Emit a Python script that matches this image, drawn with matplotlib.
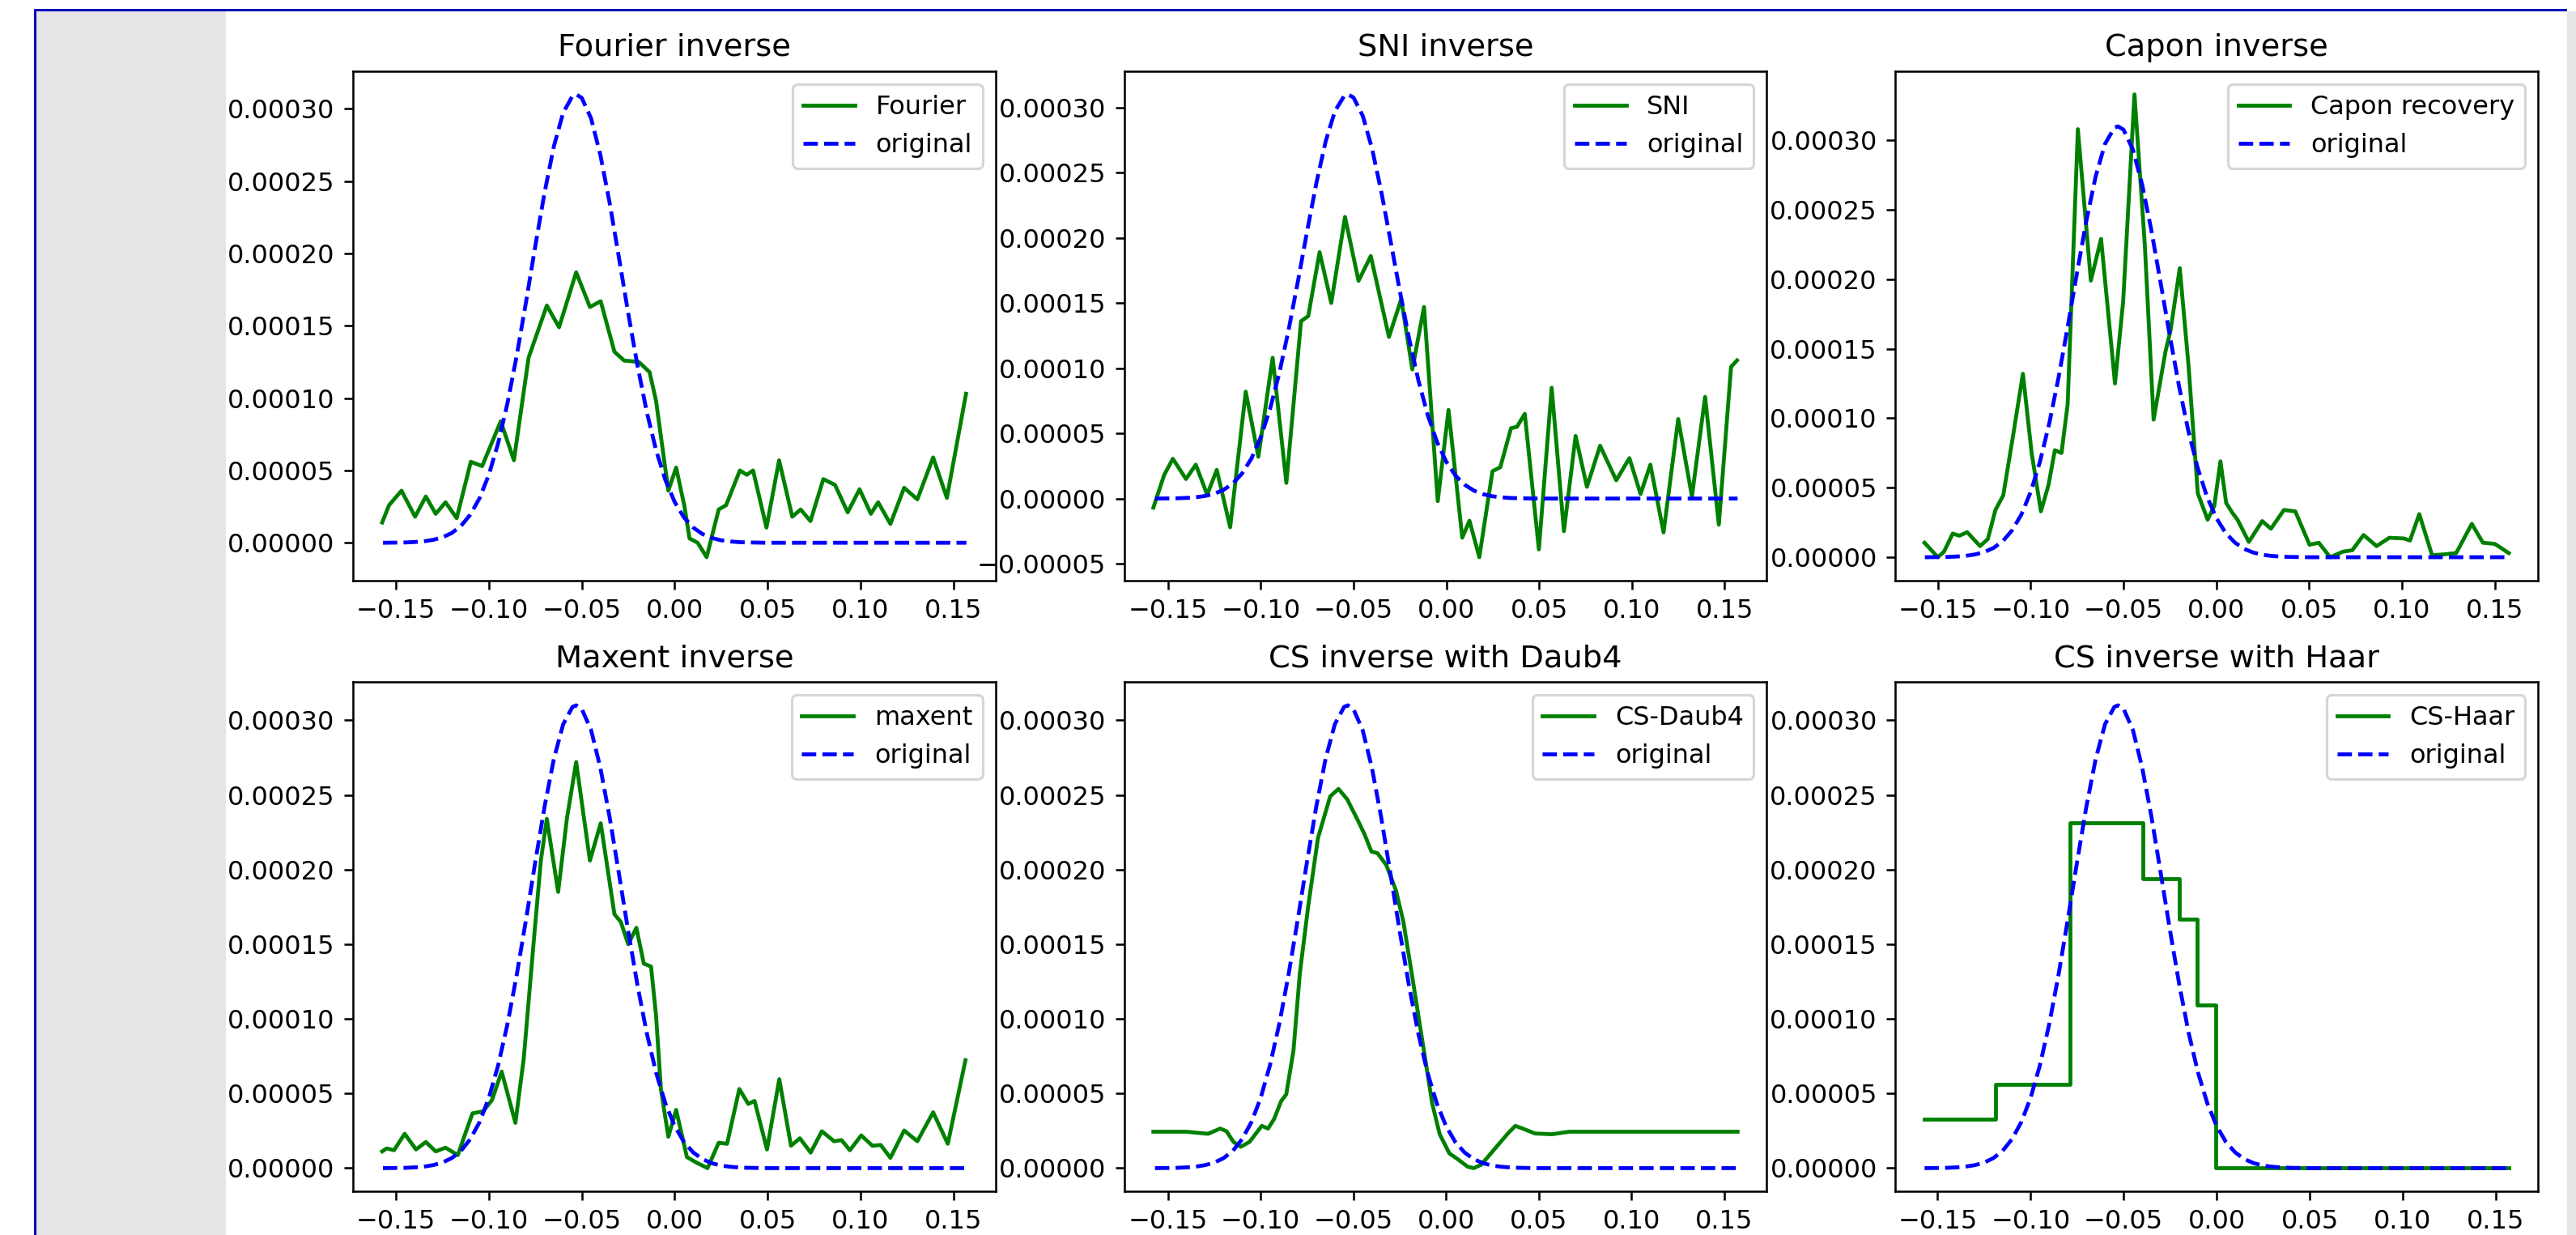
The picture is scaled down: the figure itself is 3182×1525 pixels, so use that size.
import matplotlib
matplotlib.use("Agg")
import matplotlib.pyplot as plt
import numpy as np
from matplotlib.patches import Rectangle

# values below are in units of 1e-5
orig_x = [-0.157, -0.150, -0.145, -0.140, -0.135, -0.130, -0.125, -0.120, -0.115, -0.110,
          -0.105, -0.100, -0.095, -0.090, -0.085, -0.080, -0.075, -0.070, -0.065, -0.060,
          -0.055, -0.053, -0.050, -0.045, -0.040, -0.035, -0.030, -0.025, -0.020, -0.015,
          -0.010, -0.005, 0.000, 0.005, 0.010, 0.015, 0.020, 0.025, 0.030, 0.035,
          0.040, 0.045, 0.050, 0.060, 0.080, 0.100, 0.120, 0.140, 0.157]
orig_y = [0.0, 0.01, 0.02, 0.05, 0.10, 0.20, 0.37, 0.67, 1.16, 1.94,
          3.08, 4.70, 6.88, 9.63, 12.93, 16.64, 20.51, 24.22, 27.41, 29.73,
          30.89, 31.0, 30.76, 29.35, 26.83, 23.51, 19.73, 15.88, 12.24, 9.04,
          6.40, 4.34, 2.82, 1.75, 1.05, 0.60, 0.33, 0.17, 0.09, 0.04,
          0.02, 0.01, 0.0, 0.0, 0.0, 0.0, 0.0, 0.0, 0.0]

fourier_x = [-0.1574, -0.1537, -0.147, -0.1397, -0.1339, -0.1286, -0.1233, -0.1173, -0.1097, -0.1036,
             -0.0936, -0.0865, -0.0786, -0.0688, -0.0622, -0.053, -0.0456, -0.0398, -0.0324, -0.0272,
             -0.0193, -0.0135, -0.010, -0.0034, 0.0008, 0.0053, 0.008, 0.0124, 0.0172, 0.0237,
             0.0277, 0.0351, 0.0388, 0.0422, 0.0494, 0.0562, 0.0633, 0.0678, 0.0731, 0.080,
             0.0863, 0.0931, 0.0995, 0.1056, 0.1095, 0.1161, 0.1235, 0.1306, 0.1391, 0.1465, 0.1568]
fourier_y = [1.4, 2.6, 3.6, 1.8, 3.2, 2.0, 2.8, 1.7, 5.6, 5.3,
             8.4, 5.7, 12.8, 16.4, 14.9, 18.7, 16.3, 16.7, 13.2, 12.6,
             12.5, 11.8, 9.8, 3.6, 5.2, 2.5, 0.3, 0.0, -1.0, 2.3,
             2.6, 5.0, 4.7, 5.0, 1.05, 5.7, 1.8, 2.3, 1.5, 4.4,
             4.0, 2.1, 3.7, 2.0, 2.8, 1.3, 3.8, 3.0, 5.9, 3.1, 10.3]

sni_x = [-0.1579, -0.1521, -0.1474, -0.1403, -0.1350, -0.1289, -0.1237, -0.1165, -0.1081, -0.1013,
         -0.0936, -0.0862, -0.0783, -0.0744, -0.0683, -0.062, -0.0546, -0.0473, -0.0407, -0.0309,
         -0.0243, -0.0183, -0.012, -0.0046, 0.0012, 0.0086, 0.0125, 0.0178, 0.0249, 0.0291,
         0.0349, 0.0381, 0.0423, 0.0499, 0.0568, 0.0634, 0.0697, 0.0758, 0.0829, 0.0916,
         0.0987, 0.1047, 0.11, 0.1171, 0.125, 0.1324, 0.1395, 0.1469, 0.1535, 0.1567]
sni_y = [-0.7, 1.8, 3.05, 1.5, 2.6, 0.3, 2.2, -2.2, 8.2, 3.2,
         10.8, 1.2, 13.6, 14.0, 18.9, 15.0, 21.6, 16.7, 18.6, 12.4,
         15.3, 9.9, 14.7, -0.2, 6.8, -3.0, -1.7, -4.5, 2.1, 2.4,
         5.4, 5.5, 6.5, -3.9, 8.5, -2.5, 4.8, 0.9, 4.05, 1.4,
         3.1, 0.35, 2.6, -2.6, 6.1, 0.16, 7.8, -2.0, 10.1, 10.6]

capon_x = [-0.1572, -0.15, -0.1467, -0.142, -0.1384, -0.1342, -0.1273, -0.1231, -0.119, -0.1148,
           -0.1098, -0.1042, -0.0995, -0.0945, -0.0904, -0.087, -0.0834, -0.0801, -0.0746, -0.0676,
           -0.0621, -0.0546, -0.0502, -0.0441, -0.0385, -0.0338, -0.0274, -0.0247, -0.0197, -0.015,
           -0.01, -0.0047, -0.0011, 0.0022, 0.0053, 0.0086, 0.0114, 0.0175, 0.0247, 0.0294,
           0.0364, 0.0425, 0.0502, 0.0552, 0.0613, 0.0682, 0.0732, 0.0793, 0.0863, 0.0932,
           0.101, 0.1043, 0.1093, 0.1162, 0.1223, 0.1292, 0.1376, 0.1436, 0.15, 0.1575]
capon_y = [1.04, 0.0, 0.4, 1.7, 1.55, 1.8, 0.8, 1.3, 3.4, 4.45,
           8.5, 13.2, 7.5, 3.3, 5.2, 7.7, 7.5, 11.0, 30.8, 19.9,
           22.9, 12.5, 18.4, 33.3, 22.4, 9.9, 14.8, 16.3, 20.8, 13.8,
           4.6, 2.7, 3.7, 6.9, 3.9, 3.2, 2.7, 1.1, 2.6, 2.05,
           3.4, 3.3, 0.9, 1.04, 0.0, 0.4, 0.5, 1.6, 0.8, 1.4,
           1.35, 1.2, 3.1, 0.15, 0.2, 0.3, 2.4, 1.04, 0.96, 0.3]

maxent_x = [-0.1574, -0.155, -0.151, -0.1453, -0.1392, -0.1339, -0.1286, -0.1233, -0.1167, -0.1128,
            -0.1088, -0.1031, -0.0983, -0.0931, -0.0857, -0.0812, -0.0759, -0.072, -0.0688, -0.0627,
            -0.058, -0.053, -0.0456, -0.0398, -0.0324, -0.029, -0.025, -0.0206, -0.0166, -0.0127,
            -0.01, -0.0074, -0.0034, 0.0008, 0.0066, 0.0119, 0.0177, 0.0237, 0.0282, 0.0348,
            0.0396, 0.043, 0.0497, 0.0563, 0.0626, 0.0674, 0.0732, 0.0792, 0.0858, 0.0898,
            0.0943, 0.1004, 0.1064, 0.1109, 0.1161, 0.1235, 0.1306, 0.1391, 0.147, 0.1565]
maxent_y = [1.12, 1.32, 1.2, 2.3, 1.25, 1.75, 1.12, 1.37, 0.87, 2.27,
            3.67, 3.8, 4.56, 6.47, 3.03, 7.36, 15.1, 20.6, 23.4, 18.5,
            23.4, 27.2, 20.6, 23.1, 17.0, 16.5, 15.0, 16.1, 13.7, 13.5,
            10.2, 5.3, 2.1, 3.9, 0.74, 0.36, 0.0, 1.7, 1.63, 5.3,
            4.3, 4.5, 1.25, 5.96, 1.5, 2.0, 1.04, 2.47, 1.8, 1.88,
            1.2, 2.19, 1.5, 1.55, 0.69, 2.52, 1.8, 3.74, 1.63, 7.23]

daub4_x = [-0.1579, -0.1403, -0.1284, -0.1218, -0.1184, -0.1147, -0.1107, -0.106, -0.0994, -0.096,
           -0.0928, -0.0889, -0.0862, -0.0823, -0.0789, -0.0744, -0.0691, -0.0625, -0.058, -0.0533,
           -0.048, -0.0441, -0.0402, -0.037, -0.0322, -0.027, -0.023, -0.0178, -0.0126, -0.0074,
           -0.0034, 0.0018, 0.0071, 0.0116, 0.015, 0.019, 0.0269, 0.0335, 0.0374, 0.0414,
           0.048, 0.0572, 0.0665, 0.1007, 0.1573]
daub4_y = [2.44, 2.44, 2.3, 2.65, 2.47, 1.76, 1.43, 1.76, 2.83, 2.65,
           3.28, 4.5, 4.94, 7.87, 13.0, 17.5, 22.1, 24.9, 25.4, 24.7,
           23.4, 22.4, 21.2, 21.1, 20.3, 18.6, 16.5, 12.5, 8.4, 4.3,
           2.27, 0.99, 0.53, 0.1, 0.0, 0.23, 1.38, 2.34, 2.83, 2.65,
           2.32, 2.27, 2.44, 2.44, 2.44]

haar_edges = [-0.157, -0.119, -0.079, -0.0395, -0.020, -0.0103, -0.0005, 0.157]
haar_vals = [3.28, 5.63, 23.15, 19.4, 16.7, 10.9, 0.0]

panels = [
    ("Fourier inverse", "Fourier", fourier_x, fourier_y),
    ("SNI inverse", "SNI", sni_x, sni_y),
    ("Capon inverse", "Capon recovery", capon_x, capon_y),
    ("Maxent inverse", "maxent", maxent_x, maxent_y),
    ("CS inverse with Daub4", "CS-Daub4", daub4_x, daub4_y),
    ("CS inverse with Haar", "CS-Haar", None, None),
]

W, H, DPI = 3182, 1525, 230
fig, axes = plt.subplots(2, 3, figsize=(W / DPI, H / DPI), dpi=DPI)
fig.subplots_adjust(left=436 / W, right=3135 / W, top=1 - 88 / H, bottom=1 - 1471 / H,
                    wspace=0.2, hspace=0.2)


def px_rect(x0, y0, x1, y1, color):
    fig.patches.append(Rectangle((x0 / W, 1 - y1 / H), (x1 - x0) / W, (y1 - y0) / H,
                                 transform=fig.transFigure, facecolor=color,
                                 edgecolor="none", zorder=-5))


# notebook frame around the figure
px_rect(45, 14, 279, H, "#e5e5e5")
px_rect(3171, 14, W, H, "#e5e5e5")
px_rect(42, 11, 3171, 14, "#0000bb")
px_rect(42, 11, 45, H, "#0000bb")

ox = np.array(orig_x)
oy = np.array(orig_y) * 1e-5

for ax, (title, label, gx, gy) in zip(axes.flat, panels):
    if gx is None:
        ax.step(haar_edges, np.array(haar_vals + [haar_vals[-1]]) * 1e-5,
                where="post", color="g", label=label)
    else:
        ax.plot(gx, np.array(gy) * 1e-5, color="g", label=label)
    ax.plot(ox, oy, "b--", label="original")
    ax.set_title(title)
    ax.legend(loc="upper right")

fig.savefig("out.png", dpi=DPI)
